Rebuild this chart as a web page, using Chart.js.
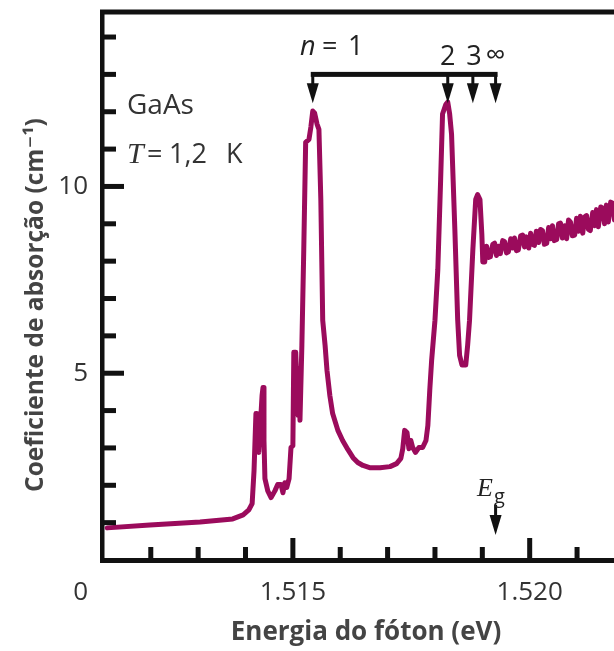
<!DOCTYPE html>
<html lang="pt">
<head>
<meta charset="utf-8">
<title>Absorção do GaAs</title>
<script src="https://cdn.jsdelivr.net/npm/chart.js@4.4.1/dist/chart.umd.min.js"></script>
<style>
    html, body { margin: 0; padding: 0; background: #fff; }
    #grafico { display: block; }
</style>
</head>
<body>
<canvas id="grafico" width="614" height="651"></canvas>
<script>
// Espectro de absorção
const energia = [
    1.51108, 1.51198, 1.51304, 1.51373, 1.51395, 1.51407, 1.51414, 1.51418, 1.51422, 1.51424,
    1.51428, 1.51435, 1.51437, 1.51439, 1.51441, 1.51447, 1.51454, 1.51462, 1.51468, 1.51475,
    1.51479, 1.51483, 1.51487, 1.51492, 1.51496, 1.51500, 1.51502, 1.51506, 1.51511, 1.51513,
    1.51515, 1.51519, 1.51523, 1.51527, 1.51534, 1.51538, 1.51542, 1.51546, 1.51551, 1.51555,
    1.51559, 1.51563, 1.51568, 1.51572, 1.51578, 1.51584, 1.51595, 1.51605, 1.51616, 1.51627,
    1.51637, 1.51648, 1.51662, 1.51684, 1.51705, 1.51719, 1.51728, 1.51732, 1.51736, 1.51741,
    1.51745, 1.51749, 1.51753, 1.51759, 1.51766, 1.51774, 1.51781, 1.51785, 1.51789, 1.51793,
    1.51800, 1.51806, 1.51812, 1.51816, 1.51823, 1.51827, 1.51831, 1.51835, 1.51842, 1.51848,
    1.51852, 1.51857, 1.51865, 1.51869, 1.51873, 1.51880, 1.51886, 1.51890, 1.51895, 1.51899,
    1.51901, 1.51905,
    // região do contínuo (ruidosa)
    1.51909, 1.51913, 1.51917, 1.51922, 1.51926, 1.51930, 1.51934, 1.51938, 1.51943, 1.51947,
    1.51951, 1.51955, 1.51960, 1.51964, 1.51968, 1.51972, 1.51976, 1.51981, 1.51985, 1.51989,
    1.51993, 1.51998, 1.52002, 1.52006, 1.52010, 1.52014, 1.52019, 1.52023, 1.52027, 1.52031,
    1.52036, 1.52040, 1.52044, 1.52048, 1.52052, 1.52057, 1.52061, 1.52065, 1.52069, 1.52074,
    1.52078, 1.52082, 1.52086, 1.52090, 1.52095, 1.52099, 1.52103, 1.52107, 1.52112, 1.52116,
    1.52120, 1.52124, 1.52128, 1.52133, 1.52137, 1.52141, 1.52145, 1.52150, 1.52154, 1.52158,
    1.52162, 1.52166, 1.52171, 1.52175, 1.52179
];
const absorcao = [
    0.86, 0.94, 1.02, 1.10, 1.21, 1.34, 1.51, 2.39, 3.92, 3.92,
    2.88, 4.41, 4.62, 3.20, 2.18, 1.85, 1.67, 1.85, 2.02, 2.02,
    1.80, 2.07, 1.94, 2.18, 3.01, 3.06, 5.56, 5.56, 3.87, 5.13,
    3.74, 5.75, 8.31, 11.18, 11.26, 11.59, 12.02, 11.96, 11.67, 11.53,
    9.65, 6.42, 5.75, 5.08, 4.41, 3.92, 3.47, 3.20, 2.96, 2.74,
    2.61, 2.53, 2.47, 2.47, 2.50, 2.58, 2.72, 2.98, 3.47, 3.41,
    2.98, 3.20, 3.01, 2.88, 3.01, 3.01, 3.20, 3.60, 4.54, 5.35,
    6.42, 7.77, 10.19, 11.94, 12.20, 12.26, 11.94, 11.40, 8.84, 6.42,
    5.48, 5.22, 5.22, 5.75, 6.42, 8.31, 9.65, 9.78, 9.65, 8.71,
    7.98, 7.98,
    8.40, 8.10, 8.12, 8.45, 8.48, 8.15, 8.40, 8.20, 8.55, 8.52,
    8.22, 8.25, 8.60, 8.35, 8.62, 8.28, 8.30, 8.68, 8.70, 8.38,
    8.65, 8.35, 8.75, 8.45, 8.42, 8.80, 8.50, 8.85, 8.82, 8.45,
    8.48, 8.90, 8.60, 8.95, 8.55, 8.58, 9.00, 9.02, 8.62, 8.95,
    8.60, 9.10, 9.05, 8.68, 8.70, 9.15, 8.80, 9.20, 8.75, 9.18,
    9.22, 8.85, 8.82, 9.30, 8.95, 9.38, 8.92, 9.45, 9.42, 9.00,
    9.50, 9.05, 9.58, 9.55, 9.10
];

// Rótulos dos eixos
const rotulosX = [1.515, 1.520];
const rotulosY = [5, 10];

// Níveis do éxciton (n = 1, 2, 3, ∞) e energia do gap
const nivelEnergia = [1.51542, 1.51827, 1.51880, 1.51928];
const nivelRotulo = ['1', '2', '3', '\u221e'];
const energiaGap = 1.51928;

const COR_CURVA = '#9b0b5c';
const COR_EIXO = '#111';
const COR_TEXTO = '#333';
const SANS = '"Open Sans", "DejaVu Sans", sans-serif';
const SERIF = '"Liberation Serif", "DejaVu Serif", serif';

function ehRotulo(lista, v) {
    return lista.some(r => Math.abs(r - v) < 1e-7);
}

function seta(ctx, x, yTopo, yPonta) {
    ctx.lineWidth = 3;
    ctx.beginPath();
    ctx.moveTo(x, yTopo);
    ctx.lineTo(x, yPonta - 16);
    ctx.stroke();
    ctx.beginPath();
    ctx.moveTo(x - 6, yPonta - 20);
    ctx.lineTo(x + 6, yPonta - 20);
    ctx.lineTo(x, yPonta);
    ctx.closePath();
    ctx.fill();
}

// Desenha moldura, marcas internas e anotações
const desenhos = {
    id: 'desenhos',
    afterDraw(chart) {
        const ctx = chart.ctx;
        const { left, right, top, bottom } = chart.chartArea;
        const sx = chart.scales.x;
        const sy = chart.scales.y;

        ctx.save();
        ctx.fillStyle = COR_EIXO;
        ctx.strokeStyle = COR_EIXO;

        // linha superior
        ctx.fillRect(left - 2, top - 2.5, right - left + 2, 5);

        // marcas para dentro
        sx.ticks.forEach(t => {
            const px = sx.getPixelForValue(t.value);
            if (px < left + 5) return;
            const len = ehRotulo(rotulosX, t.value) ? 22 : 13;
            ctx.fillRect(px - 2.5, bottom - len, 5, len);
        });
        sy.ticks.forEach(t => {
            const py = sy.getPixelForValue(t.value);
            if (py > bottom - 5) return;
            const len = ehRotulo(rotulosY, t.value) ? 22 : 14;
            ctx.fillRect(left, py - 2.5, len, 5);
        });

        // "0" no canto
        ctx.fillStyle = COR_TEXTO;
        ctx.font = '26px ' + SANS;
        ctx.textAlign = 'right';
        ctx.textBaseline = 'middle';
        ctx.fillText('0', 88, 593);

        // títulos dos eixos
        ctx.textAlign = 'center';
        ctx.fillStyle = '#444';
        ctx.font = 'bold 26px ' + SANS;
        ctx.fillText('Energia do fóton (eV)', 366, 633);

        ctx.save();
        ctx.translate(36, 305);
        ctx.rotate(-Math.PI / 2);
        ctx.font = 'bold 24.5px ' + SANS;
        ctx.fillText('Coeficiente de absorção (cm\u207b\u00b9)', 0, 0);
        ctx.restore();

        // GaAs e temperatura
        ctx.textAlign = 'left';
        ctx.textBaseline = 'alphabetic';
        ctx.fillStyle = COR_TEXTO;
        ctx.font = '28px ' + SANS;
        ctx.fillText('GaAs', 127, 114);
        ctx.font = 'italic 30px ' + SERIF;
        ctx.fillText('T', 127, 163);
        ctx.font = '27px ' + SANS;
        ctx.fillText('=', 147, 163);
        ctx.fillText('1,2', 169, 163);
        ctx.fillText('K', 226, 163);

        // níveis do éxciton
        const yBarra = sy.getPixelForValue(13.0);
        const yPonta = sy.getPixelForValue(12.23);
        const xs = nivelEnergia.map(e => sx.getPixelForValue(e));
        ctx.fillStyle = COR_EIXO;
        ctx.fillRect(xs[0] - 2, yBarra - 2.5, xs[xs.length - 1] - xs[0] + 4, 5);
        xs.forEach(x => seta(ctx, x, yBarra, yPonta));

        ctx.fillStyle = '#222';
        ctx.font = 'italic 27px ' + SANS;
        ctx.fillText('n', 300, 55);
        ctx.font = '27px ' + SANS;
        ctx.fillText('=', 322, 55);
        ctx.fillText(nivelRotulo[0], 348, 55);
        ctx.textAlign = 'center';
        ctx.fillText(nivelRotulo[1], xs[1], 65);
        ctx.fillText(nivelRotulo[2], xs[2] + 1, 65);
        ctx.font = '28px ' + SANS;
        ctx.fillText(nivelRotulo[3], xs[3], 64);

        // gap
        const xg = sx.getPixelForValue(energiaGap);
        ctx.fillStyle = COR_EIXO;
        seta(ctx, xg, sy.getPixelForValue(1.48), sy.getPixelForValue(0.67));
        ctx.fillStyle = '#222';
        ctx.textAlign = 'left';
        ctx.font = 'italic 26px ' + SERIF;
        ctx.fillText('E', 477, 496);
        ctx.font = '20px ' + SANS;
        ctx.fillText('g', 494, 503);

        ctx.restore();
    }
};

function renderGrafico() {
    const ctx = document.getElementById('grafico').getContext('2d');
    const pontos = energia.map((e, i) => ({ x: e, y: absorcao[i] }));

    new Chart(ctx, {
        type: 'line',
        data: {
            datasets: [{
                data: pontos,
                borderColor: COR_CURVA,
                borderWidth: 5,
                borderJoinStyle: 'round',
                borderCapStyle: 'round',
                pointRadius: 0,
                tension: 0,
                fill: false
            }]
        },
        options: {
            responsive: false,
            animation: false,
            devicePixelRatio: 1,
            layout: { padding: { top: 12, right: 0, bottom: 0, left: 0 } },
            plugins: { legend: { display: false }, tooltip: { enabled: false } },
            scales: {
                x: {
                    type: 'linear',
                    min: 1.51097,
                    max: 1.52178,
                    afterFit: s => { s.height = 91; s.paddingLeft = 0; s.paddingRight = 0; },
                    grid: { display: false, drawTicks: false },
                    border: { display: true, color: COR_EIXO, width: 5 },
                    ticks: {
                        stepSize: 0.001,
                        includeBounds: false,
                        autoSkip: false,
                        maxRotation: 0,
                        minRotation: 0,
                        padding: 17,
                        color: COR_TEXTO,
                        font: { family: SANS, size: 26 },
                        callback: v => ehRotulo(rotulosX, v) ? v.toFixed(3) : ''
                    }
                },
                y: {
                    min: 0,
                    max: 14.67,
                    afterFit: s => { s.width = 102; s.paddingTop = 0; s.paddingBottom = 0; },
                    grid: { display: false, drawTicks: false },
                    border: { display: true, color: COR_EIXO, width: 4.5 },
                    ticks: {
                        stepSize: 1,
                        includeBounds: false,
                        autoSkip: false,
                        padding: 14,
                        color: COR_TEXTO,
                        font: { family: SANS, size: 26 },
                        callback: v => ehRotulo(rotulosY, v) ? String(v) : ''
                    }
                }
            }
        },
        plugins: [desenhos]
    });
}

document.addEventListener('DOMContentLoaded', renderGrafico);
</script>
</body>
</html>
